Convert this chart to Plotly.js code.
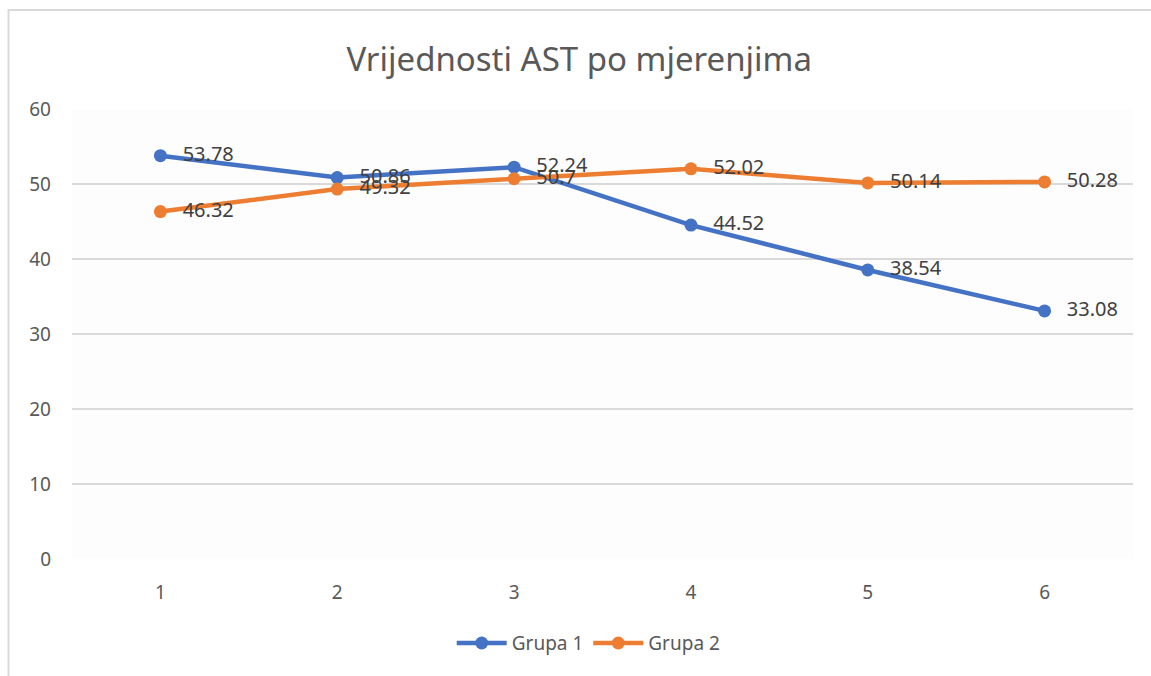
<!DOCTYPE html>
<html>
<head>
<meta charset="utf-8">
<script src="https://cdn.plot.ly/plotly-3.0.1.min.js"></script>
<style>html,body{margin:0;padding:0;background:#fff;}#chart{width:1151px;height:676px;}</style>
</head>
<body>
<div id="chart"></div>
<script>
const categories = ["1", "2", "3", "4", "5", "6"];
const grupa1 = [53.78, 50.86, 52.24, 44.52, 38.54, 33.08];
const grupa2 = [46.32, 49.32, 50.7, 52.02, 50.14, 50.28];
const seriesNames = ["Grupa 1", "Grupa 2"];
const yTicks = [0, 10, 20, 30, 40, 50, 60];

const font = "Noto Sans, Open Sans, sans-serif";
function mk(name, vals, color) {
  return {
    type: "scatter", mode: "lines+markers", name: name,
    x: categories, y: vals,
    line: {color: color, width: 4.5},
    marker: {color: color, size: 13},
    cliponaxis: false
  };
}
function lbl(vals) {
  return {
    type: "scatter", mode: "markers+text", showlegend: false, hoverinfo: "skip",
    x: categories, y: vals,
    text: vals.map(v => String(v)),
    textposition: "middle right",
    textfont: {family: font, size: 20, color: "#404040"},
    marker: {color: "rgba(0,0,0,0)", size: 34},
    cliponaxis: false
  };
}
const data = [mk(seriesNames[0], grupa1, "#4472C4"), mk(seriesNames[1], grupa2, "#ED7D31"), lbl(grupa1), lbl(grupa2)];
const layout = {
  width: 1151, height: 676,
  margin: {l: 71.5, r: 17.5, t: 109, b: 117},
  paper_bgcolor: "#ffffff", plot_bgcolor: "#fdfdfd",
  font: {family: font, color: "#595959"},
  title: {text: "Vrijednosti AST po mjerenjima", x: 0.478, xref: "paper", y: 0.912, yanchor: "middle",
          font: {family: font, size: 33, color: "#595959"}},
  xaxis: {type: "category", range: [-0.5, 5.5], showgrid: false, zeroline: false, showline: false,
          ticks: "", tickfont: {size: 19, color: "#595959"}, ticklabelstandoff: 20, fixedrange: true},
  yaxis: {range: [0, 60], tickvals: yTicks, showgrid: true, gridcolor: "#d9d9d9", gridwidth: 1.5,
          zeroline: false, showline: false, ticks: "", tickfont: {size: 19, color: "#595959"},
          ticklabelstandoff: 20, fixedrange: true},
  showlegend: true,
  legend: {orientation: "h", x: 0.487, xanchor: "center", y: -0.187, yanchor: "middle",
           font: {size: 19, color: "#595959"}, itemwidth: 50, traceorder: "normal"},
  shapes: [{type: "rect", xref: "paper", yref: "paper", x0: -0.0598, x1: 1.2, y0: -0.5, y1: 1.22,
            line: {color: "#d9d9d9", width: 2}, fillcolor: "rgba(0,0,0,0)", layer: "below"}]
};
Plotly.newPlot("chart", data, layout, {displayModeBar: false, staticPlot: true});
</script>
</body>
</html>
